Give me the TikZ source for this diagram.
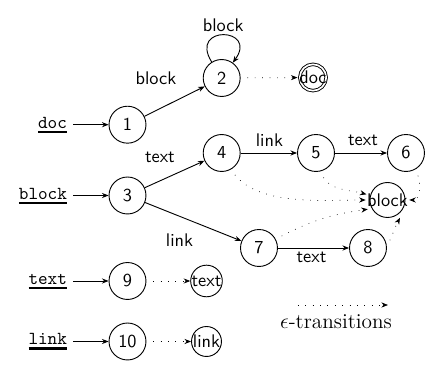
\documentclass[tikz,border=0pt]{standalone}
\usetikzlibrary{arrows.meta}
\newcommand{\ulab}[1]{\setbox0=\hbox{\ttfamily #1}\rlap{\vrule width\wd0 height -1.3pt depth 2.6pt}\box0}
\begin{document}
\begin{tikzpicture}[x=0.5464pt,y=0.5464pt,
  >={Stealth[length=3.6pt,width=2.8pt]},
  line width=0.5pt,
  st/.style={circle,draw,minimum size=20.2pt,inner sep=0pt,font=\sffamily},
  wst/.style={circle,draw,inner sep=0pt,font=\sffamily},
  blkst/.style={circle,inner sep=0pt,fill=white,font=\sffamily,
    path picture={\draw[line width=0.5pt] (path picture bounding box.center) circle[radius=9.56pt];}},
  accst/.style={circle,inner sep=0pt,fill=white,font=\sffamily,
    path picture={\draw[line width=0.5pt,double,double distance=0.9pt] (path picture bounding box.center) circle[radius=7.2pt];}},
  lab/.style={font=\sffamily,inner sep=0pt},
  tok/.style={anchor=base east,inner sep=3.33pt},
  eps/.style={->,line width=0.4pt,dash pattern=on 0.35pt off 3.7pt,dash phase=0.35pt}]
\useasboundingbox (0,0) rectangle (430,-372);

% states
\node[st] (n1) at (127.5,-124.7) {1};
\node[st] (n2) at (221.7,-78) {2};
\node[accst] (doc) at (313,-77.5) {doc};
\node[st] (n3) at (127.5,-195.5) {3};
\node[st] (n4) at (221.7,-153) {4};
\node[st] (n5) at (316,-153) {5};
\node[st] (n6) at (406,-153) {6};
\node[blkst] (blk) at (387.5,-200) {block};
\node[st] (n7) at (259,-248) {7};
\node[st] (n8) at (368,-248) {8};
\node[st] (n9) at (127.5,-281) {9};
\node[wst] (txt) at (206.5,-281) {text};
\node[st] (n10) at (127.5,-341.5) {10};
\node[wst] (lnk) at (206.5,-341.5) {link};

% start tokens
\node[tok] (ldoc) at (73.5,-128.5) {\ulab{doc}};
\node[tok] (lblock) at (73.5,-199.5) {\ulab{block}};
\node[tok] (ltext) at (73.5,-284.5) {\ulab{text}};
\node[tok] (llink) at (73.5,-345) {\ulab{link}};
\draw[->] (ldoc.east |- n1) -- (n1);
\draw[->] (lblock.east |- n3) -- (n3);
\draw[->] (ltext.east |- n9) -- (n9);
\draw[->] (llink.east |- n10) -- (n10);

% transitions
\draw[->] (n1) -- node[lab,shift={(-10.2pt,12.5pt)}] {block} (n2);
\draw[->] (n2) to[out=122,in=54,distance=24pt] node[lab,pos=0.5,anchor=base,yshift=1.8pt] {block} (n2);
\draw[->] (n3) -- node[lab,shift={(-8pt,9pt)}] {text} (n4);
\draw[->] (n4) -- node[lab,shift={(0.3pt,7.1pt)}] {link} (n5);
\draw[->] (n5) -- node[lab,shift={(1.1pt,7.1pt)}] {text} (n6);
\draw[->] (n3) -- node[lab,shift={(-7.5pt,-10.1pt)}] {link} (n7);
\draw[->] (n7) -- node[lab,shift={(-1.1pt,-5.2pt)}] {text} (n8);

% epsilon transitions
\draw[eps] (n2) -- (doc);
\draw[eps] (n9) -- (txt);
\draw[eps] (n10) -- (lnk);
\draw[eps] (n4) to[out=-60,in=180,looseness=0.8] (blk);
\draw[eps] (n5) to[out=-75,in=165] (blk);
\draw[eps] (n7) to[out=28,in=188] (blk.205);
\draw[eps] (n6) to[out=-60,in=0] (blk);
\draw[eps] (n8.5) to[out=62,in=-118] (blk.-55);

% legend
\coordinate (la) at (291,-305);
\coordinate (lb) at (388,-305);
\draw[eps] (la) -- (lb);
\node[anchor=base,font=\fontsize{11.6}{14}\selectfont] (leg) at (336,-329) {$\epsilon$-transitions};
\end{tikzpicture}
\end{document}
